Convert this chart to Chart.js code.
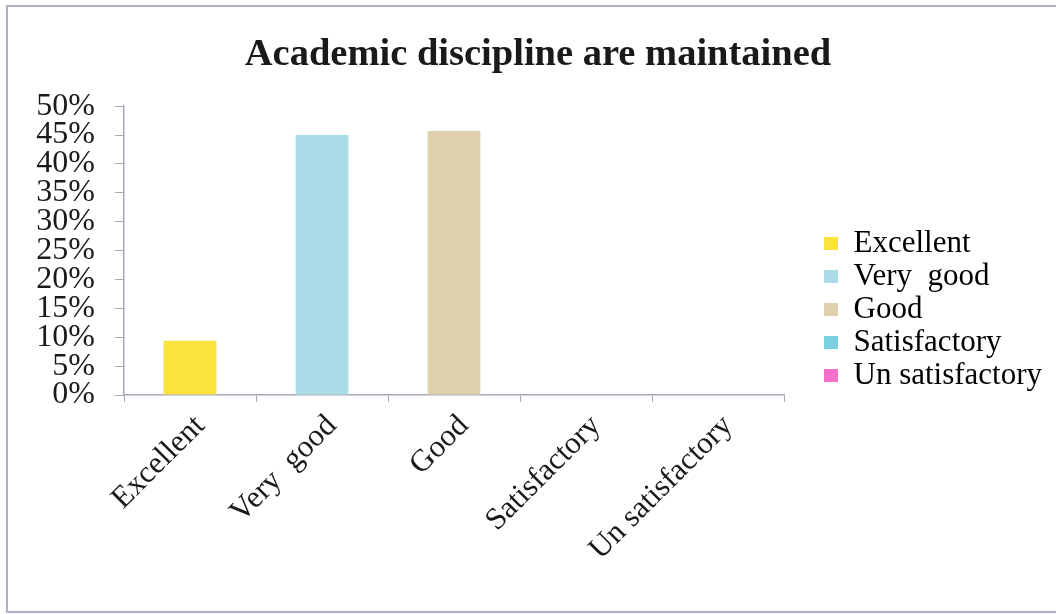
<!DOCTYPE html>
<html>
<head>
<meta charset="utf-8">
<title>Academic discipline are maintained</title>
<script src="https://cdn.jsdelivr.net/npm/chart.js@4.4.1/dist/chart.umd.min.js"></script>
<style>
  html, body { margin: 0; padding: 0; background: #fff; }
  canvas { display: block; }
</style>
</head>
<body>
<canvas id="discipline-chart" width="1056" height="614"></canvas>
<script>
// values (percent of respondents)
const categories = ['Excellent', 'Very  good', 'Good', 'Satisfactory', 'Un satisfactory'];
const percentages = [9.4, 45.0, 45.7, 0, 0];
const barColors = ['#FCE23C', '#AADDE7', '#DDD0AA', '#7ACFE1', '#F56FCC'];
const yTicks = [0, 5, 10, 15, 20, 25, 30, 35, 40, 45, 50];

const axisColor = '#a8a8bc';
const textColor = '#1a1a1a';

Chart.defaults.font.family = "'Liberation Serif', 'Times New Roman', serif";

// grey frame like the scanned page
const pageFrame = {
  id: 'pageFrame',
  beforeDraw(chart) {
    const ctx = chart.ctx;
    ctx.save();
    ctx.fillStyle = '#fff';
    ctx.fillRect(0, 0, chart.width, chart.height);
    ctx.strokeStyle = '#b0b0c0';
    ctx.lineWidth = 2;
    ctx.beginPath();
    ctx.moveTo(chart.width, 6);
    ctx.lineTo(7, 6);
    ctx.lineTo(7, 612);
    ctx.lineTo(chart.width, 612);
    ctx.stroke();
    ctx.restore();
  }
};

// keep the legend column where the original puts it
const legendSpot = {
  id: 'legendSpot',
  beforeLayout(chart) {
    const lg = chart.legend;
    if (lg && !lg._wide) {
      const fit = lg.fit;
      lg.fit = function() { fit.call(this); this.width = 272; };
      lg._wide = true;
    }
  },
  afterLayout(chart) {
    const lg = chart.legend;
    if (!lg) return;
    lg.left = 822;
    lg.right = lg.left + lg.width;
    lg.top = 226;
    lg.bottom = 600;
  }
};

new Chart(document.getElementById('discipline-chart'), {
  type: 'bar',
  data: {
    labels: categories,
    datasets: [{
      data: percentages,
      backgroundColor: barColors,
      borderWidth: 0,
      barPercentage: 0.4,
      categoryPercentage: 1.0
    }]
  },
  options: {
    responsive: false,
    animation: false,
    layout: { padding: { top: 10, right: 0, bottom: 0, left: 20 } },
    plugins: {
      title: {
        display: true,
        text: 'Academic discipline are maintained',
        color: textColor,
        font: { size: 38.5, weight: 'bold' },
        padding: { top: 22, bottom: 28 }
      },
      legend: {
        position: 'right',
        align: 'start',
        labels: {
          color: textColor,
          font: { size: 31 },
          boxWidth: 14,
          boxHeight: 13,
          padding: 2,
          generateLabels: () => categories.map((c, i) => ({
            text: c,
            fillStyle: barColors[i],
            strokeStyle: barColors[i],
            lineWidth: 0,
            hidden: false,
            index: i,
            datasetIndex: 0
          }))
        }
      },
      tooltip: { enabled: false }
    },
    scales: {
      x: {
        offset: true,
        grid: { offset: true, drawOnChartArea: false, drawTicks: true, tickLength: 7, color: axisColor },
        border: { display: true, color: axisColor, width: 1.5 },
        ticks: {
          color: textColor,
          font: { size: 31 },
          minRotation: 45,
          maxRotation: 45,
          autoSkip: false,
          padding: 6,
          labelOffset: 10
        },
        afterFit(scale) { scale.height = 614 - 395; }
      },
      y: {
        min: yTicks[0],
        max: yTicks[yTicks.length - 1],
        grid: { drawOnChartArea: false, drawTicks: true, tickLength: 9, color: axisColor },
        border: { display: true, color: axisColor, width: 1.5 },
        ticks: {
          stepSize: yTicks[1] - yTicks[0],
          autoSkip: false,
          color: textColor,
          font: { size: 32, lineHeight: 0.9 },
          padding: 20,
          callback: v => v + '%'
        },
        afterFit(scale) { scale.width = 104; }
      }
    }
  },
  plugins: [pageFrame, legendSpot]
});
</script>
</body>
</html>
